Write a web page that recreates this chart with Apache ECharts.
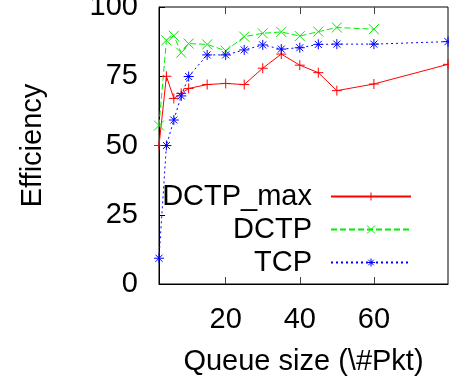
<!DOCTYPE html>
<html><head><meta charset="utf-8">
<script src="https://cdn.jsdelivr.net/npm/echarts@6/dist/echarts.min.js"></script>
<style>html,body{margin:0;padding:0;background:#fff}#c{width:449px;height:385px}</style>
</head><body><div id="c"></div>
<script>
const xTicks = [20, 40, 60];
const yTicks = [0, 25, 50, 75, 100];
const dctpMaxX = [2, 4, 6, 8, 10, 15, 20, 25, 30, 35, 40, 45, 50, 60, 80];
const dctpMaxY = [50, 75, 67, 68.8, 70.6, 72, 72.4, 72, 77.9, 83, 79, 76.3, 69.8, 72.2, 79.3];
const dctpX = [2, 4, 6, 8, 10, 15, 20, 25, 30, 35, 40, 45, 50, 60];
const dctpY = [57.2, 88, 89.6, 83.5, 86.8, 86.5, 84.2, 89.3, 90.5, 91, 89.5, 91.1, 92.6, 92];
const tcpX = [2, 4, 6, 8, 10, 15, 20, 25, 30, 35, 40, 45, 50, 60, 80];
const tcpY = [9.3, 50, 59.2, 67.9, 74.9, 82.7, 82.7, 84.5, 86.3, 84.8, 85.3, 86.5, 86.6, 86.6, 87.5];

const FONT = 'Liberation Sans';
const PLUS = 'path://M5,0L5,10M0,5L10,5';
const CROSS = 'path://M0,0L10,10M10,0L0,10';
const STAR = 'path://M5,0L5,10M0,5L10,5M1.5,1.5L8.5,8.5M8.5,1.5L1.5,8.5';

function zip(xs, ys) { return xs.map((x, i) => [x, ys[i]]); }
function mkSeries(name, xs, ys, color, type, sym) {
  return {
    name, type: 'line', data: zip(xs, ys),
    symbol: sym, symbolSize: 10, showSymbol: true,
    lineStyle: { color, width: 1, type },
    itemStyle: { color: 'rgba(0,0,0,0)', borderColor: color, borderWidth: 1 },
    emphasis: { disabled: true }, animation: false
  };
}
function mkLegend(name, top) {
  return {
    data: [name], right: 37, top, align: 'right', orient: 'vertical',
    itemWidth: 80, itemHeight: 10, padding: 0,
    itemStyle: { color: 'rgba(0,0,0,0)', borderWidth: 1 },
    textStyle: { fontFamily: FONT, fontSize: 29, color: '#000', padding: [0, 14, 0, 0] },
    selectedMode: false
  };
}
const chart = echarts.init(document.getElementById('c'), null, { renderer: 'canvas' });
chart.setOption({
  animation: false,
  grid: { left: 159, top: 7, width: 289, height: 277, show: true, borderColor: '#000', borderWidth: 1,
          containLabel: false, outerBoundsMode: 'none' },
  legend: [mkLegend('DCTP_max', 182), mkLegend('DCTP', 215), mkLegend('TCP', 248)],
  xAxis: [{
    type: 'value', min: 2, max: 80,
    name: 'Queue size (\\#Pkt)', nameLocation: 'middle', nameGap: 63,
    nameTextStyle: { fontFamily: FONT, fontSize: 29, color: '#000' },
    axisLine: { show: true, lineStyle: { color: '#000' } },
    axisTick: { show: true, inside: true, length: 7, customValues: xTicks, lineStyle: { color: '#444' } },
    axisLabel: { customValues: xTicks, margin: 21, fontFamily: FONT, fontSize: 29, color: '#000' },
    splitLine: { show: false }
  }, {
    type: 'value', min: 2, max: 80, position: 'top',
    axisLine: { show: false },
    axisTick: { show: true, inside: true, length: 7, customValues: xTicks, lineStyle: { color: '#444' } },
    axisLabel: { show: false }, splitLine: { show: false }
  }],
  yAxis: {
    type: 'value', min: 0, max: 100, interval: 25,
    name: 'Efficiency', nameLocation: 'middle', nameGap: 112,
    nameTextStyle: { fontFamily: FONT, fontSize: 29, color: '#000' },
    axisLine: { show: true, lineStyle: { color: '#000' } },
    axisTick: { show: true, inside: true, length: 6, lineStyle: { color: '#000' } },
    axisLabel: { margin: 21, fontFamily: FONT, fontSize: 29, color: '#000' },
    splitLine: { show: false }
  },
  series: [
    mkSeries('DCTP_max', dctpMaxX, dctpMaxY, '#ff0000', 'solid', PLUS),
    mkSeries('DCTP', dctpX, dctpY, '#00ee00', [6, 3], CROSS),
    mkSeries('TCP', tcpX, tcpY, '#0000ff', [2, 3], STAR)
  ]
});
</script></body></html>
